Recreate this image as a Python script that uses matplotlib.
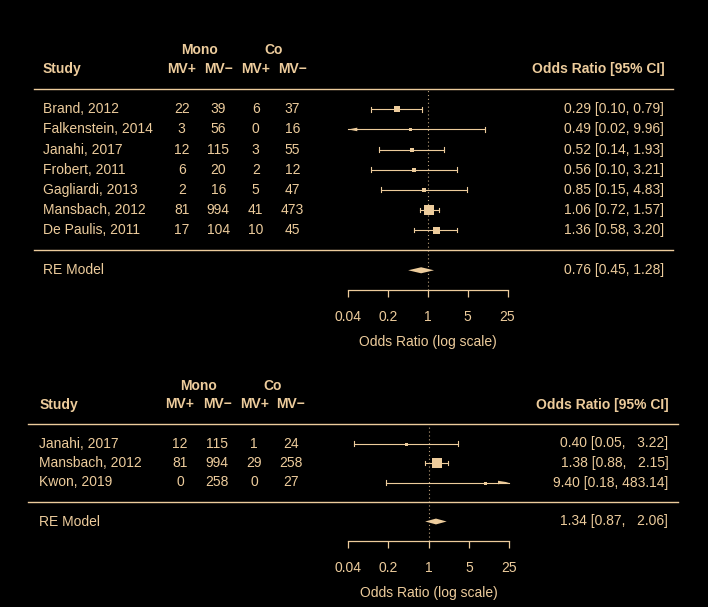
import numpy as np
import matplotlib
matplotlib.use("Agg")
import matplotlib.pyplot as plt
from matplotlib import transforms
from matplotlib.lines import Line2D
from matplotlib.patches import Polygon

# ---------------- data ----------------
studies_top = ["Brand, 2012", "Falkenstein, 2014", "Janahi, 2017", "Frobert, 2011",
               "Gagliardi, 2013", "Mansbach, 2012", "De Paulis, 2011"]
mono_pos_top = [22, 3, 12, 6, 2, 81, 17]
mono_neg_top = [39, 56, 115, 20, 16, 994, 104]
co_pos_top = [6, 0, 3, 2, 5, 41, 10]
co_neg_top = [37, 16, 55, 12, 47, 473, 45]
or_top = [0.29, 0.49, 0.52, 0.56, 0.85, 1.06, 1.36]
lo_top = [0.10, 0.02, 0.14, 0.10, 0.15, 0.72, 0.58]
hi_top = [0.79, 9.96, 1.93, 3.21, 4.83, 1.57, 3.20]
re_top = [0.76, 0.45, 1.28]

studies_bot = ["Janahi, 2017", "Mansbach, 2012", "Kwon, 2019"]
mono_pos_bot = [12, 81, 0]
mono_neg_bot = [115, 994, 258]
co_pos_bot = [1, 29, 0]
co_neg_bot = [24, 258, 27]
or_bot = [0.40, 1.38, 9.40]
lo_bot = [0.05, 0.88, 0.18]
hi_bot = [3.22, 2.15, 483.14]
re_bot = [1.34, 0.87, 2.06]

tick_vals = [0.04, 0.2, 1, 5, 25]
tick_labels = ["0.04", "0.2", "1", "5", "25"]

# ---------------- style ----------------
W, H = 708, 607
FG = "#EDCC9C"
BG = "black"
FS = 10
plt.rcParams["font.family"] = ["Liberation Sans", "DejaVu Sans"]

fig = plt.figure(figsize=(W / 100, H / 100), dpi=100, facecolor=BG)


def px2pt(p):
    return p * 0.72


def panel(ax_rect, ymax, studies, mp, mn, cp, cn, est, lo, hi, re, sq_px,
          study_x, col_x, line_x, ci_right, mono_row):
    ax = fig.add_axes(ax_rect, facecolor=BG)
    k = len(studies)
    ax.set_xscale("log")
    xmin, xmax = tick_vals[0], tick_vals[-1]
    ax.set_xlim(xmin, xmax)
    ax.set_ylim(-2, ymax)
    rows = np.arange(k, 0, -1)
    trans = transforms.blended_transform_factory(fig.transFigure, ax.transData)

    # axis styling
    for s in ["top", "right", "left"]:
        ax.spines[s].set_visible(False)
    ax.spines["bottom"].set_color(FG)
    ax.spines["bottom"].set_linewidth(0.9)
    ax.spines["bottom"].set_bounds(xmin, xmax)
    ax.set_yticks([])
    ax.set_xticks(tick_vals)
    ax.set_xticklabels(tick_labels)
    ax.xaxis.set_minor_locator(matplotlib.ticker.NullLocator())
    ax.tick_params(axis="x", colors=FG, direction="out", length=px2pt(7),
                   width=0.9, pad=9.2, labelsize=FS)
    ax.annotate("Odds Ratio (log scale)", xy=(0.5, 0), xycoords="axes fraction",
                xytext=(0, -px2pt(51.5)), textcoords="offset points",
                ha="center", va="center", color=FG, fontsize=FS)

    # reference line at 1
    ax.plot([1, 1], [-2, k + 1], color=FG, lw=0.8, ls=(0, (1, 2.5)), alpha=0.8,
            clip_on=False)

    # separator lines
    for yy in [k + 1, 0]:
        fig.add_artist(Line2D([line_x[0] / W, line_x[1] / W], [yy, yy],
                              transform=trans, color=FG, lw=1.0))

    # headers
    ax.text(study_x / W, k + 2, "Study", transform=trans, ha="left", va="center",
            color=FG, fontsize=FS, fontweight="bold", clip_on=False)
    for cx, lab in zip(col_x, ["MV+", "MV\u2212", "MV+", "MV\u2212"]):
        ax.text(cx / W, k + 2, lab, transform=trans, ha="center", va="center",
                color=FG, fontsize=FS, fontweight="bold", clip_on=False)
    ax.text((col_x[0] + col_x[1]) / 2 / W, k + mono_row, "Mono", transform=trans,
            ha="center", va="center", color=FG, fontsize=FS, fontweight="bold")
    ax.text((col_x[2] + col_x[3]) / 2 / W, k + mono_row, "Co", transform=trans,
            ha="center", va="center", color=FG, fontsize=FS, fontweight="bold")
    ax.text(ci_right / W, k + 2, "Odds Ratio [95% CI]", transform=trans,
            ha="right", va="center", color=FG, fontsize=FS, fontweight="bold")

    # rows
    hi_str = ["%.2f" % v for v in hi]
    wmax = max(len(s) for s in hi_str)
    dec_per_px = np.log10(xmax / xmin) / (ax_rect[2] * W)
    for i, r in enumerate(rows):
        ax.text(study_x / W, r, studies[i], transform=trans, ha="left", va="center",
                color=FG, fontsize=FS)
        for cx, vals in zip(col_x, [mp, mn, cp, cn]):
            ax.text(cx / W, r, str(vals[i]), transform=trans, ha="center",
                    va="center", color=FG, fontsize=FS)
        ci_txt = "%.2f [%.2f, %s]" % (est[i], lo[i], hi_str[i].rjust(wmax))
        ax.text(ci_right / W, r, ci_txt, transform=trans, ha="right", va="center",
                color=FG, fontsize=FS)

        # CI line (clipped to axis range)
        l = max(lo[i], xmin)
        h = min(hi[i], xmax)
        ax.plot([l, h], [r, r], color=FG, lw=0.8, clip_on=False)
        cap = 0.115
        if lo[i] >= xmin:
            ax.plot([lo[i], lo[i]], [r - cap, r + cap], color=FG, lw=0.8)
        else:
            aw = 10 ** (9 * dec_per_px)
            ax.add_patch(Polygon([[xmin, r], [xmin * aw, r + 0.09], [xmin * aw, r - 0.09]],
                                 closed=True, color=FG, lw=0, clip_on=False))
        if hi[i] <= xmax:
            ax.plot([hi[i], hi[i]], [r - cap, r + cap], color=FG, lw=0.8)
        else:
            aw = 10 ** (11 * dec_per_px)
            ax.add_patch(Polygon([[xmax, r], [xmax / aw, r + 0.09], [xmax / aw, r - 0.09]],
                                 closed=True, color=FG, lw=0, clip_on=False))
        ax.scatter([est[i]], [r], marker="s", s=px2pt(sq_px[i]) ** 2, color=FG,
                   linewidths=0, zorder=3)

    # RE model
    ax.text(study_x / W, -1, "RE Model", transform=trans, ha="left", va="center",
            color=FG, fontsize=FS)
    ax.text(ci_right / W, -1, "%.2f [%.2f, %s]" % (re[0], re[1], ("%.2f" % re[2]).rjust(wmax)),
            transform=trans, ha="right", va="center", color=FG, fontsize=FS)
    hh = 0.15
    ax.add_patch(Polygon([[re[1], -1], [re[0], -1 + hh], [re[2], -1], [re[0], -1 - hh]],
                         closed=True, color=FG, lw=0, zorder=3))
    return ax


# top panel: row spacing 20.12 px, row -2 at 290.4 px
top_sp, top_axis = 20.12, 290.4
top_ymax = 10.5
top_rect = [348.3 / W, 1 - top_axis / H, (507.5 - 348.3) / W,
            (top_ymax + 2) * top_sp / H]
panel(top_rect, top_ymax, studies_top, mono_pos_top, mono_neg_top, co_pos_top, co_neg_top,
      or_top, lo_top, hi_top, re_top, [5.5, 3, 5, 4, 4, 10, 7],
      study_x=42.7, col_x=[181.7, 218.3, 255.7, 292.3], line_x=[34, 673.3],
      ci_right=664.3, mono_row=2.95)

# bottom panel: row spacing 19.5 px, row -2 at 541 px
bot_sp, bot_axis = 19.5, 541.0
bot_ymax = 6.5
bot_rect = [348.3 / W, 1 - bot_axis / H, (509.0 - 348.3) / W,
            (bot_ymax + 2) * bot_sp / H]
panel(bot_rect, bot_ymax, studies_bot, mono_pos_bot, mono_neg_bot, co_pos_bot, co_neg_bot,
      or_bot, lo_bot, hi_bot, re_bot, [3, 10, 3],
      study_x=39.3, col_x=[180, 217.3, 254.3, 291], line_x=[28, 677.7],
      ci_right=668.3, mono_row=2.95)

fig.savefig("out.png", dpi=100, facecolor=BG)
